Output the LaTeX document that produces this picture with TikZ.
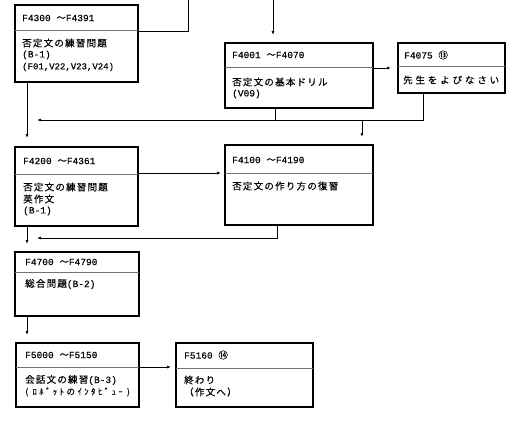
\documentclass[tikz,border=0pt]{standalone}
\usepackage{fontspec}
\usetikzlibrary{arrows.meta}
\newfontfamily\jpf[LetterSpace=13,FakeBold=0.3]{Noto Sans CJK JP}
\newfontfamily\jpw[LetterSpace=30,FakeBold=0.3]{Noto Sans CJK JP}
\newfontfamily\jpn[FakeBold=0.3]{Noto Sans CJK JP}
\newfontfamily\jps[LetterSpace=30,FakeBold=0.2]{Noto Sans CJK JP}
\newfontfamily\mnf[FakeBold=0.3]{Liberation Mono}
\newcommand\hdr[2]{{\mnf #1\ }{\jpn ～}{\mnf #2}}
\begin{document}
\begin{tikzpicture}[x=1pt,y=-1pt,
  box/.style={draw=black, line width=1.2pt, inner sep=0pt, outer sep=0pt, anchor=north west},
  divl/.style={draw=black!55, line width=0.7pt},
  conn/.style={line width=0.8pt},
  arr/.style={conn, -{Latex[length=4pt,width=3pt]}},
  txt/.style={anchor=west, inner sep=0pt, font=\fontsize{9.5}{12}\selectfont},
  lat/.style={anchor=west, inner sep=0pt, font=\fontsize{9.5}{11}\selectfont}]
\useasboundingbox (0,0) rectangle (519,426);

% boxes
\node[box, minimum width=123pt, minimum height=77pt] (b1) at (15,5) {};
\draw[divl] ([yshift=-25pt]b1.north west) -- ([yshift=-25pt]b1.north east);
\node[box, minimum width=148pt, minimum height=65pt] (b2) at (225,43) {};
\draw[divl] ([yshift=-24pt]b2.north west) -- ([yshift=-24pt]b2.north east);
\node[box, minimum width=107pt, minimum height=50pt] (b3) at (398,43) {};
\draw[divl] ([yshift=-23pt]b3.north west) -- ([yshift=-23pt]b3.north east);
\node[box, minimum width=123pt, minimum height=79pt] (b4) at (15,147) {};
\draw[divl] ([yshift=-27pt]b4.north west) -- ([yshift=-27pt]b4.north east);
\node[box, minimum width=148pt, minimum height=80pt] (b5) at (225,145) {};
\draw[divl] ([yshift=-28pt]b5.north west) -- ([yshift=-28pt]b5.north east);
\node[box, minimum width=124pt, minimum height=64pt] (b6) at (15,252) {};
\draw[divl] ([yshift=-20pt]b6.north west) -- ([yshift=-20pt]b6.north east);
\node[box, minimum width=123pt, minimum height=64pt] (b7) at (16,343) {};
\draw[divl] ([yshift=-24pt]b7.north west) -- ([yshift=-24pt]b7.north east);
\node[box, minimum width=137pt, minimum height=64pt] (b8) at (176,343) {};
\draw[divl] ([yshift=-25pt]b8.north west) -- ([yshift=-25pt]b8.north east);

% texts
\node[lat] (h1) at (22,18) {\hdr{F4300}{F4391}};
\node[txt] (p1a) at (22,43) {\jpf 否定文の練習問題};
\node[lat] (p1b) at (22,55) {\mnf (B-1)};
\node[lat] (p1c) at (22,67) {\fontsize{9}{11}\selectfont\mnf (F01,V22,V23,V24)};

\node[lat] (h2) at (232,55) {\hdr{F4001}{F4070}};
\node[txt] (p2a) at (232,82) {\jpf 否定文の基本ドリル};
\node[lat] (p2b) at (232,94) {\mnf (V09)};

\node[lat] (h3) at (404,55) {{\mnf F4075\ }{\jpn ⑬}};
\node[txt] (p3) at (403,80) {\jpw 先生をよびなさい};

\node[lat] (h4) at (23,161) {\hdr{F4200}{F4361}};
\node[txt] (p4a) at (23,187) {\jpf 否定文の練習問題};
\node[txt] (p4b) at (23,199) {\jpf 英作文};
\node[lat] (p4c) at (23,211) {\mnf (B-1)};

\node[lat] (h5) at (232,160) {\hdr{F4100}{F4190}};
\node[txt] (p5) at (232,186) {\jpf 否定文の作り方の復習};

\node[lat] (h6) at (25,262) {\hdr{F4700}{F4790}};
\node[txt] (p6) at (25,284) {{\jpf 総合問題}{\mnf\fontsize{9.5}{11}\selectfont (B-2)}};

\node[lat] (h7) at (25,355) {\hdr{F5000}{F5150}};
\node[txt] (p7a) at (25,380) {{\jpf 会話文の練習}{\mnf\fontsize{9.5}{11}\selectfont (B-3)}};
\node[txt] (p7b) at (25,392) {\fontsize{8.5}{10}\selectfont\jps (\ ﾛﾎﾞｯﾄのｲﾝﾀﾋﾞｭｰ\ )};

\node[lat] (h8) at (184,355) {{\mnf F5160\ }{\jpn ⑭}};
\node[txt] (p8a) at (184,380) {\jpf 終わり};
\node[txt] (p8b) at (184,392) {\jpf （作文へ）};

% coordinates
\coordinate (t1) at (188,0);
\coordinate (t2) at (273,0);
\coordinate (L) at (27,0);
\coordinate (r1) at (0,68);
\coordinate (X2) at (275,0);
\coordinate (X3) at (423,0);
\coordinate (X4) at (362,0);
\coordinate (m1) at (0,120);
\coordinate (A1) at (37,120);
\coordinate (r2) at (0,173);
\coordinate (X5) at (277,0);
\coordinate (A2) at (37,238);
\coordinate (r3) at (0,367);

% connectors
\draw[conn] (t1) |- ([yshift=-26pt]b1.north east);
\draw[arr, shorten >=8pt] (t2) -- (t2 |- b2.north);
\draw[arr, shorten >=9pt] (L |- b1.south) -- (L |- b4.north);
\draw[arr, shorten >=7pt] (b2.east |- r1) -- (b3.west |- r1);
\draw[conn] (X2 |- b2.south) -- (X2 |- m1);
\draw[arr] (X3 |- b3.south) |- (A1);
\draw[arr, shorten >=8pt] (X4 |- m1) -- (X4 |- b5.north);
\draw[arr, shorten >=4pt] (b4.east |- r2) -- (b5.west |- r2);
\draw[arr] (X5 |- b5.south) |- (A2);
\draw[arr, shorten >=8pt] (L |- b4.south) -- (L |- b6.north);
\draw[arr, shorten >=8pt] (L |- b6.south) -- (L |- b7.north);
\draw[arr, shorten >=5pt] (b7.east |- r3) -- (b8.west |- r3);
\end{tikzpicture}
\end{document}
